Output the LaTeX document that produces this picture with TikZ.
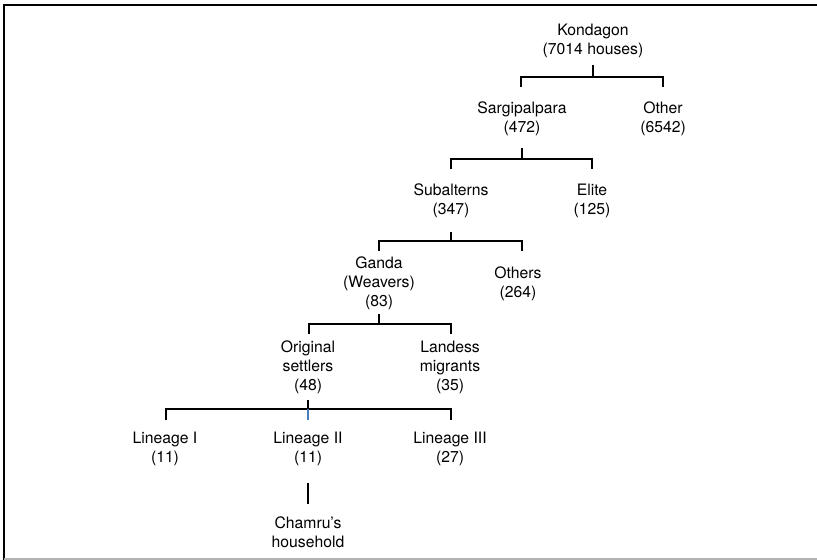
\documentclass[tikz,border=0pt]{standalone}
\usepackage{fontspec}
\setmainfont{TeX Gyre Heros}
\definecolor{legblue}{RGB}{70,125,190}
\tikzset{
  lbl/.style={align=center, inner sep=0, font=\fontsize{11.8}{14.3}\selectfont},
  bar/.style={line width=1.4pt},
}
\begin{document}
\begin{tikzpicture}[x=0.75pt, y=-0.75pt]

\useasboundingbox (0,0) rectangle (817,560);

% frame
\draw[line width=2pt] (4,560) to (4,5) to (817,5);
\draw[gray!60, line width=1.5pt] (4,559) to (817,559);

\node[lbl] (kon) at (593,41) {Kondagon\\(7014 houses)};

\node[lbl] (sar) at (522,118.5) {Sargipalpara\\(472)};
\node[lbl] (oth) at (663,118.5) {Other\\(6542)};

\node[lbl] (sub) at (451,200.5) {Subalterns\\(347)};
\node[lbl] (eli) at (592,200.5) {Elite\\(125)};

\node[lbl] (gan) at (379,283) {Ganda\\(Weavers)\\(83)};
\node[lbl] (ots) at (518,283.5) {Others\\(264)};

\node[lbl] (ori) at (308,367) {Original\\settlers\\(48)};
\node[lbl] (lan) at (450,367) {Landess\\migrants\\(35)};

\node[lbl] (li1) at (165,448.5) {Lineage I\\(11)};
\node[lbl] (li2) at (308,448.5) {Lineage II\\(11)};
\node[lbl] (li3) at (450,448.5) {Lineage III\\(27)};

\node[lbl] (cha) at (308,532.5) {Chamru’s\\household};

% brackets
\coordinate (kon1) at (593,65);
\coordinate (kon2) at (593,77);
\coordinate (sar0) at (521,87);
\coordinate (oth0) at (663,87);
\draw[bar] (kon1) to (kon2);
\draw[bar] (sar0) |- (kon2) -| (oth0);

\coordinate (sar1) at (522,148);
\coordinate (sar2) at (522,159);
\coordinate (sub0) at (451,169);
\coordinate (eli0) at (592,169);
\draw[bar] (sar1) to (sar2);
\draw[bar] (sub0) |- (sar2) -| (eli0);

\coordinate (sub1) at (451,232);
\coordinate (sub2) at (451,241);
\coordinate (gan0) at (379,251);
\coordinate (ots0) at (522,251);
\draw[bar] (sub1) to (sub2);
\draw[bar] (gan0) |- (sub2) -| (ots0);

\coordinate (gan1) at (379,314);
\coordinate (gan2) at (379,324);
\coordinate (ori0) at (309,334);
\coordinate (lan0) at (451,334);
\draw[bar] (gan1) to (gan2);
\draw[bar] (ori0) |- (gan2) -| (lan0);

\coordinate (ori1) at (308,400);
\coordinate (ori2) at (308,409);
\coordinate (li10) at (166,420);
\coordinate (li20) at (308,420);
\coordinate (li30) at (451,420);
\draw[bar] (ori1) to (ori2);
\draw[bar] (li10) |- (ori2) -| (li30);
\draw[bar, legblue] (ori2) to (li20);

\coordinate (li21) at (308,483);
\coordinate (cha0) at (308,504);
\draw[bar] (li21) to (cha0);

\end{tikzpicture}
\end{document}
